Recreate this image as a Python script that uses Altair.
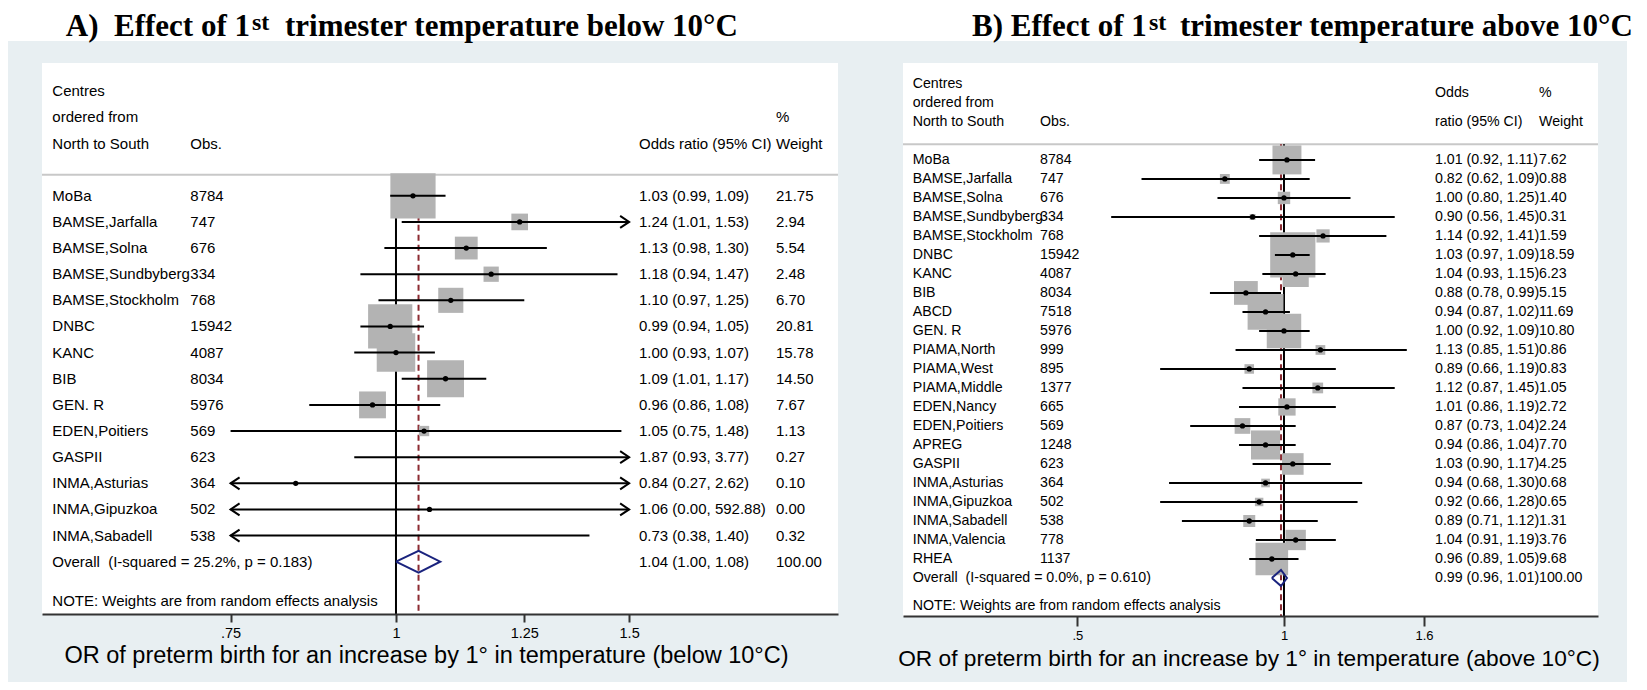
import altair as alt
import pandas as pd

# ---------------- data: panel A (below 10°C) ----------------
centres_a = ["MoBa", "BAMSE,Jarfalla", "BAMSE,Solna", "BAMSE,Sundbyberg", "BAMSE,Stockholm",
             "DNBC", "KANC", "BIB", "GEN. R", "EDEN,Poitiers", "GASPII",
             "INMA,Asturias", "INMA,Gipuzkoa", "INMA,Sabadell"]
obs_a = [8784, 747, 676, 334, 768, 15942, 4087, 8034, 5976, 569, 623, 364, 502, 538]
or_a = [1.03, 1.24, 1.13, 1.18, 1.10, 0.99, 1.00, 1.09, 0.96, 1.05, 1.87, 0.84, 1.06, 0.73]
lo_a = [0.99, 1.01, 0.98, 0.94, 0.97, 0.94, 0.93, 1.01, 0.86, 0.75, 0.93, 0.27, 0.00, 0.38]
hi_a = [1.09, 1.53, 1.30, 1.47, 1.25, 1.05, 1.07, 1.17, 1.08, 1.48, 3.77, 2.62, 592.88, 1.40]
w_a = [21.75, 2.94, 5.54, 2.48, 6.70, 20.81, 15.78, 14.50, 7.67, 1.13, 0.27, 0.10, 0.00, 0.32]
overall_a = [1.04, 1.00, 1.08]
het_a = "Overall\u00a0 (I-squared = 25.2%, p = 0.183)"
ticks_a = [0.75, 1, 1.25, 1.5]

# ---------------- data: panel B (above 10°C) ----------------
centres_b = ["MoBa", "BAMSE,Jarfalla", "BAMSE,Solna", "BAMSE,Sundbyberg", "BAMSE,Stockholm",
             "DNBC", "KANC", "BIB", "ABCD", "GEN. R", "PIAMA,North", "PIAMA,West",
             "PIAMA,Middle", "EDEN,Nancy", "EDEN,Poitiers", "APREG", "GASPII",
             "INMA,Asturias", "INMA,Gipuzkoa", "INMA,Sabadell", "INMA,Valencia", "RHEA"]
obs_b = [8784, 747, 676, 334, 768, 15942, 4087, 8034, 7518, 5976, 999, 895,
         1377, 665, 569, 1248, 623, 364, 502, 538, 778, 1137]
or_b = [1.01, 0.82, 1.00, 0.90, 1.14, 1.03, 1.04, 0.88, 0.94, 1.00, 1.13, 0.89,
        1.12, 1.01, 0.87, 0.94, 1.03, 0.94, 0.92, 0.89, 1.04, 0.96]
lo_b = [0.92, 0.62, 0.80, 0.56, 0.92, 0.97, 0.93, 0.78, 0.87, 0.92, 0.85, 0.66,
        0.87, 0.86, 0.73, 0.86, 0.90, 0.68, 0.66, 0.71, 0.91, 0.89]
hi_b = [1.11, 1.09, 1.25, 1.45, 1.41, 1.09, 1.15, 0.99, 1.02, 1.09, 1.51, 1.19,
        1.45, 1.19, 1.04, 1.04, 1.17, 1.30, 1.28, 1.12, 1.19, 1.05]
w_b = [7.62, 0.88, 1.40, 0.31, 1.59, 18.59, 6.23, 5.15, 11.69, 10.80, 0.86, 0.83,
       1.05, 2.72, 2.24, 7.70, 4.25, 0.68, 0.65, 1.31, 3.76, 9.68]
overall_b = [0.99, 0.96, 1.01]
het_b = "Overall\u00a0 (I-squared = 0.0%, p = 0.610)"
ticks_b = [0.5, 1, 1.6]

# ---------------- texts ----------------
title_a = ["A)\u00a0 Effect of 1", "st", "trimester temperature below 10°C"]
title_b = ["B) Effect of 1", "st", "trimester temperature above 10°C"]
xtitle_a = "OR of preterm birth for an increase by 1° in temperature (below 10°C)"
xtitle_b = "OR of preterm birth for an increase by 1° in temperature (above 10°C)"
head_label = ["Centres", "ordered from", "North to South"]
note_text = "NOTE: Weights are from random effects analysis"

FONT = "Liberation Sans"
SERIF = "Liberation Serif"
BLUE = "#e8eff2"
BOXGREY = "#b3b3b3"
NAVY = "#1a237e"
MAROON = "#8c2b32"
AXCOL = "#333333"

cfg_a = dict(xdom=[0.5403, 2.157], xrng=[34, 830], ydom=[-5.08, 16], yrng=[55, 606],
             clip=[0.75, 1.5], boxk=94, fs=15, tickfs=14.5, ticksize=8, labpad=4, axoff=0,
             sep=-0.8, cols=[44.3, 182.3, 631, 768],
             ci_head=[(-2, "Odds ratio (95% CI)")], w_head=[(-3, "%"), (-2, "Weight")],
             white=[34, 830, 55, 606], xtitle_x=418.5, xtitle_y=655, xtitle_fs=23.5)
cfg_b = dict(xdom=[0.2785, 2.868], xrng=[895, 1590], ydom=[-5.1, 24], yrng=[55, 608],
             clip=[0.2785, 2.868], boxk=110, fs=14.2, tickfs=13, ticksize=10, labpad=3, axoff=2,
             sep=-0.83, cols=[904.7, 1032, 1427, 1531],
             ci_head=[(-3.5, "Odds"), (-2, "ratio (95% CI)")], w_head=[(-3.5, "%"), (-2, "Weight")],
             white=[895, 1590, 55, 608], xtitle_x=1241, xtitle_y=658, xtitle_fs=22.7)


def fmt_ci(o, l, h):
    return f"{o:.2f} ({l:.2f}, {h:.2f})"


def build_panel(cfg, centres, obs, ors, los, his, ws, overall, het, ticks):
    n = len(centres)
    xs = alt.Scale(type="log", domain=cfg["xdom"], range=cfg["xrng"], nice=False)
    ys = alt.Scale(domain=cfg["ydom"], range=cfg["yrng"], nice=False, zero=False)
    cmin, cmax = cfg["clip"]

    st = pd.DataFrame({"row": list(range(n)), "est": ors, "lo": los, "hi": his, "w": ws})
    st["lo_c"] = st["lo"].clip(lower=cmin)
    st["hi_c"] = st["hi"].clip(upper=cmax)
    shown = st[(st["est"] >= cmin) & (st["est"] <= cmax)]
    boxes = shown[shown["w"] > 0]
    larr = st[st["lo"] < cmin].assign(ax=cmin)
    rarr = st[st["hi"] > cmax].assign(ax=cmax)

    axis = alt.Axis(orient="bottom", values=ticks, zindex=1,
                    labelExpr="datum.value < 1 ? substring(format(datum.value, '~g'), 1) : format(datum.value, '~g')",
                    title="", grid=False, domainColor=AXCOL, domainWidth=2, tickColor=AXCOL,
                    tickWidth=2, tickSize=cfg["ticksize"], labelFont=FONT, labelFontSize=cfg["tickfs"],
                    labelColor="black", labelPadding=cfg["labpad"], offset=cfg["axoff"],
                    labelFlush=False, labelOverlap=False)

    def Y(f):
        return alt.Y(f, type="quantitative", scale=ys, axis=None)

    def X(f):
        # every layer carries the same axis so that the shared axis merges cleanly
        return alt.X(f, type="quantitative", scale=xs, axis=axis)

    ytop, ybot = cfg["sep"], cfg["ydom"][1]
    sep = alt.Chart(pd.DataFrame({"row": [cfg["sep"]]})).mark_rule(
        color="#c8c8c8", strokeWidth=2).encode(
        x=alt.value(cfg["white"][0]), x2=alt.value(cfg["white"][1]), y=Y("row"))
    vline = alt.Chart(pd.DataFrame({"x": [1.0], "y0": [ytop], "y1": [ybot]})).mark_rule(
        color="black", strokeWidth=2).encode(x=X("x"), y=Y("y0"), y2="y1")
    dline = alt.Chart(pd.DataFrame({"x": [overall[0]], "y0": [ytop], "y1": [ybot]})).mark_rule(
        color=MAROON, strokeWidth=2, strokeDash=[6, 4]).encode(x=X("x"), y=Y("y0"), y2="y1")
    box = alt.Chart(boxes).mark_square(color=BOXGREY, opacity=1).encode(
        x=X("est"), y=Y("row"),
        size=alt.Size("w:Q", scale=alt.Scale(domain=[0, 100], range=[0, cfg["boxk"] * 100]), legend=None))
    ci = alt.Chart(st).mark_rule(color="black", strokeWidth=2).encode(
        x=X("lo_c"), x2="hi_c", y=Y("row"))
    dot = alt.Chart(shown).mark_point(shape="circle", filled=True, color="black", size=28, opacity=1).encode(
        x=X("est"), y=Y("row"))
    layers = [sep, vline, dline, box, ci, dot]
    if len(larr):
        layers.append(alt.Chart(larr).mark_point(shape="M1.5,-1L0,0L1.5,1", filled=False, color="black",
                                                 strokeWidth=2, size=144, opacity=1).encode(x=X("ax"), y=Y("row")))
    if len(rarr):
        layers.append(alt.Chart(rarr).mark_point(shape="M-1.5,-1L0,0L-1.5,1", filled=False, color="black",
                                                 strokeWidth=2, size=144, opacity=1).encode(x=X("ax"), y=Y("row")))
    est, olo, ohi = overall
    h = 0.42
    dia = pd.DataFrame({"x": [olo, est, ohi, est, olo], "y": [n, n - h, n, n + h, n], "k": [0, 1, 2, 3, 4]})
    layers.append(alt.Chart(dia).mark_line(color=NAVY, strokeWidth=2, strokeJoin="miter").encode(
        x=X("x"), y=Y("y"), order="k:Q"))

    # text columns
    lab = pd.DataFrame({"row": [-4, -3, -2] + list(range(n)) + [n, n + 1.5],
                        "text": head_label + centres + [het, note_text]})
    obs_df = pd.DataFrame({"row": [-2] + list(range(n)), "text": ["Obs."] + [str(v) for v in obs]})
    ci_df = pd.DataFrame({"row": [r for r, _ in cfg["ci_head"]] + list(range(n)) + [n],
                          "text": [t for _, t in cfg["ci_head"]]
                          + [fmt_ci(o, l, u) for o, l, u in zip(ors, los, his)] + [fmt_ci(*overall)]})
    w_df = pd.DataFrame({"row": [r for r, _ in cfg["w_head"]] + list(range(n)) + [n],
                         "text": [t for _, t in cfg["w_head"]] + [f"{v:.2f}" for v in ws] + ["100.00"]})
    for df, xpx in zip([lab, obs_df, ci_df, w_df], cfg["cols"]):
        layers.append(alt.Chart(df).mark_text(align="left", baseline="middle", font=FONT,
                                              fontSize=cfg["fs"], color="black").encode(
            x=alt.value(xpx), y=Y("row"), text="text:N"))
    return alt.layer(*layers)


one = pd.DataFrame({"k": [0]})


def deco_rect(x0, x1, y0, y1, color):
    return alt.Chart(one).mark_rect(color=color).encode(
        x=alt.value(x0), x2=alt.value(x1), y=alt.value(y0), y2=alt.value(y1))


def deco_text(txt, x, y, size, font=FONT, weight="normal", align="left"):
    return alt.Chart(one).mark_text(align=align, baseline="alphabetic", font=font, fontSize=size,
                                    fontWeight=weight, color="black").encode(
        x=alt.value(x), y=alt.value(y), text=alt.value(txt))


bg = deco_rect(0, 1619, 33, 674, BLUE)
white_a = deco_rect(*cfg_a["white"], "white")
white_b = deco_rect(*cfg_b["white"], "white")

panel_a = build_panel(cfg_a, centres_a, obs_a, or_a, lo_a, hi_a, w_a, overall_a, het_a, ticks_a)
panel_b = build_panel(cfg_b, centres_b, obs_b, or_b, lo_b, hi_b, w_b, overall_b, het_b, ticks_b)

titles = [
    deco_text(title_a[0], 242, 28, 31, SERIF, "bold", align="right"),
    deco_text(title_a[1], 244, 22, 24, SERIF, "bold"),
    deco_text(title_a[2], 277, 28, 31, SERIF, "bold"),
    deco_text(title_b[0], 964, 28, 31, SERIF, "bold"),
    deco_text(title_b[1], 1141, 22, 24, SERIF, "bold"),
    deco_text(title_b[2], 1172, 28, 31, SERIF, "bold"),
    deco_text(xtitle_a, cfg_a["xtitle_x"], cfg_a["xtitle_y"], cfg_a["xtitle_fs"], align="center"),
    deco_text(xtitle_b, cfg_b["xtitle_x"], cfg_b["xtitle_y"], cfg_b["xtitle_fs"], align="center"),
]

chart = alt.layer(bg, white_a, white_b, panel_a, panel_b, *titles).resolve_scale(
    x="independent", y="independent", size="independent").resolve_axis(
    x="independent", y="independent").properties(
    width=1631, height=606, autosize=alt.AutoSizeParams(type="none"),
    padding={"left": 0, "top": 0, "right": 0, "bottom": 68}, background="white").configure_view(strokeWidth=0)

chart.save("out.html", embed_options={"renderer": "svg", "actions": False})
